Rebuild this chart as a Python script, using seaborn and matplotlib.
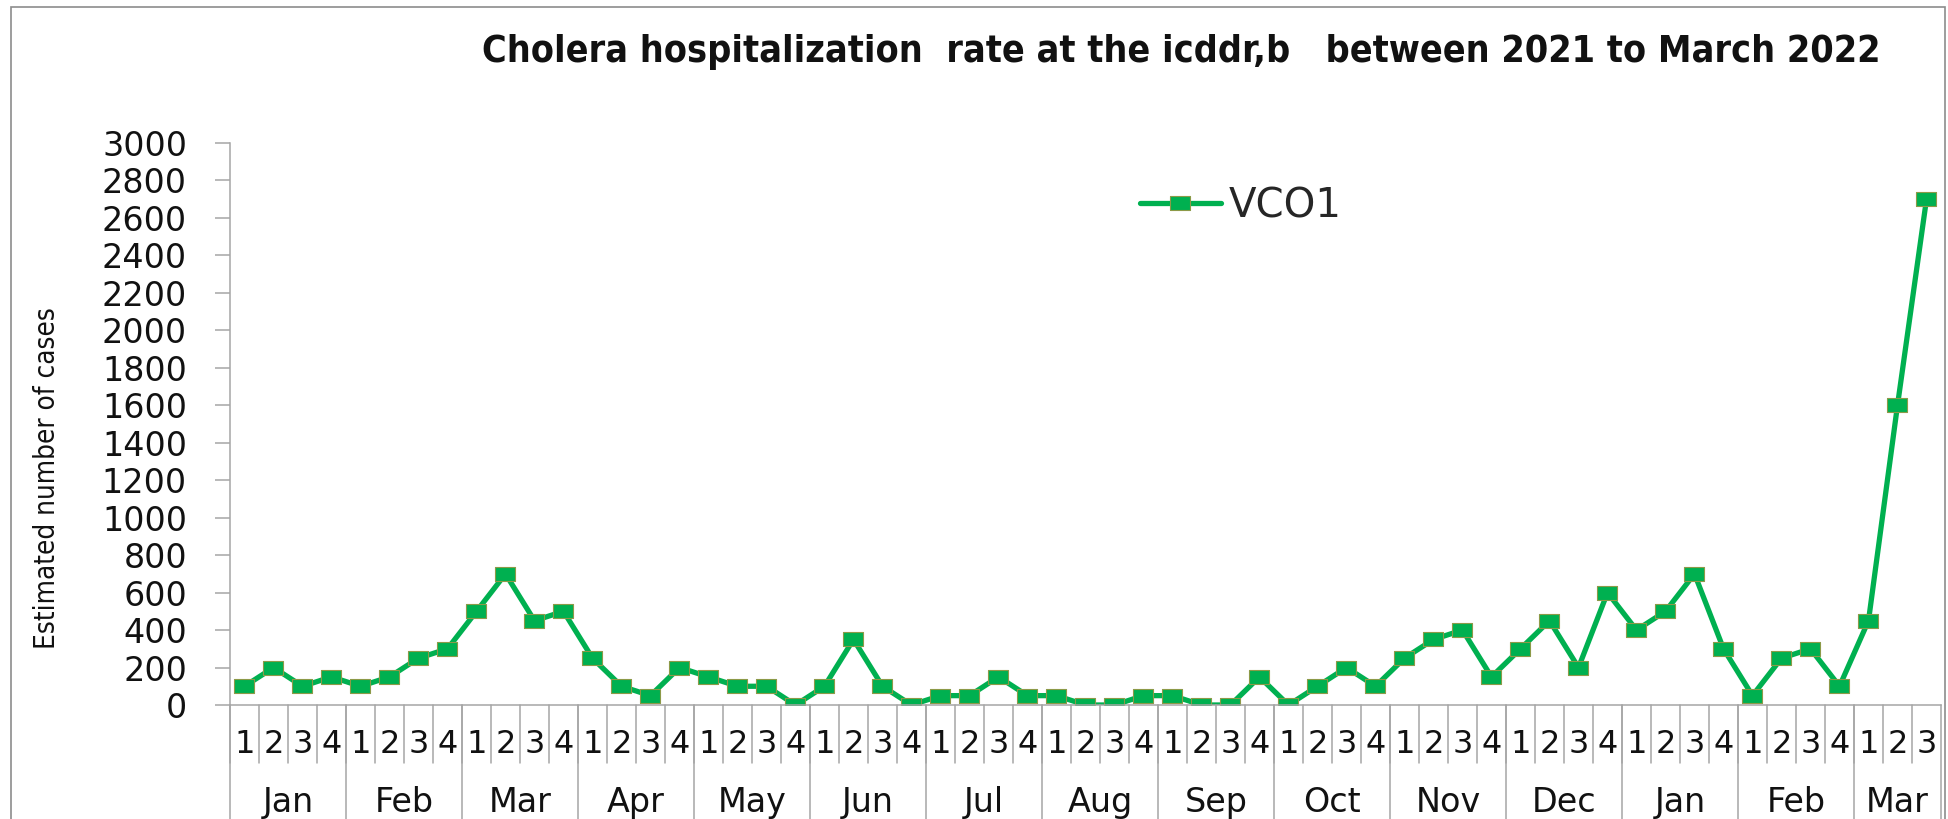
import numpy as np
import pandas as pd
import matplotlib
matplotlib.use('Agg')
import matplotlib.pyplot as plt
from matplotlib.patches import Rectangle
import seaborn as sns

# weekly cholera cases, Jan 2021 - Mar 2022
months = ['Jan', 'Feb', 'Mar', 'Apr', 'May', 'Jun', 'Jul', 'Aug',
          'Sep', 'Oct', 'Nov', 'Dec', 'Jan', 'Feb', 'Mar']
weeks_per_month = [4] * 14 + [3]
cases = [100, 200, 100, 150,
         100, 150, 250, 300,
         500, 700, 450, 500,
         250, 100, 50, 200,
         150, 100, 100, 0,
         100, 350, 100, 0,
         50, 50, 150, 50,
         50, 0, 0, 50,
         50, 0, 0, 150,
         0, 100, 200, 100,
         250, 350, 400, 150,
         300, 450, 200, 600,
         400, 500, 700, 300,
         50, 250, 300, 100,
         450, 1600, 2700]
week_labels = [str(w) for n in weeks_per_month for w in range(1, n + 1)]
y_ticks = list(range(0, 3001, 200))

GREEN = '#00B050'
GRAY = '#A6A6A6'

sns.set_style('white')
plt.rcParams['font.family'] = ['DejaVu Sans']

df = pd.DataFrame({'week': np.arange(len(cases)), 'cases': cases})

W, H = 1949, 819
fig = plt.figure(figsize=(W / 100, H / 100), dpi=100)
ax = fig.add_axes([230 / W, 1 - 705 / H, (1941 - 230) / W, (705 - 143) / H])

# slightly flattened square marker, like the original
rect = [(-1, -0.7), (1, -0.7), (1, 0.7), (-1, 0.7), (-1, -0.7)]
sns.lineplot(data=df, x='week', y='cases', ax=ax, color=GREEN, lw=3.8,
             marker=rect, markersize=14.5, markerfacecolor=GREEN,
             markeredgecolor='#8C9A48', markeredgewidth=0.8, label='VCO1')

ax.set_xlim(-0.5, len(cases) - 0.5)
ax.set_ylim(0, 3000)
ax.set_yticks(y_ticks)
ax.set_yticklabels([str(t) for t in y_ticks], fontsize=24, color='#111111')
ax.set_xticks([])
ax.set_xlabel('')
ax.set_ylabel('')
ax.tick_params(axis='y', length=11, width=1.1, color=GRAY, pad=20, left=True)
for s in ['top', 'right']:
    ax.spines[s].set_visible(False)
for s in ['left', 'bottom']:
    ax.spines[s].set_color(GRAY)
    ax.spines[s].set_linewidth(1.1)

# category axis: week numbers and month groups
trans = ax.get_xaxis_transform()
for i, lab in enumerate(week_labels):
    ax.text(i, -0.0694, lab, transform=trans, ha='center', va='center',
            fontsize=23, color='#111111')
    ax.plot([i - 0.5, i - 0.5], [0, -0.103], transform=trans, clip_on=False,
            color=GRAY, lw=1.1)

bounds = np.concatenate([[0], np.cumsum(weeks_per_month)]) - 0.5
for b in bounds:
    ax.plot([b, b], [0, -0.25], transform=trans, clip_on=False,
            color=GRAY, lw=1.1)
for m, a, b in zip(months, bounds[:-1], bounds[1:]):
    ax.text((a + b) / 2, -0.174, m, transform=trans, ha='center', va='center',
            fontsize=24, color='#111111')

leg = ax.legend(loc='center left', bbox_to_anchor=(1140 / W, 1 - 206 / H),
                bbox_transform=fig.transFigure, frameon=False, fontsize=29,
                handlelength=2.0, handletextpad=0.2, borderpad=0,
                borderaxespad=0, numpoints=1)

fig.text(0.606, 1 - 52 / H,
         'Cholera hospitalization  rate at the icddr,b   between 2021 to March 2022',
         ha='center', va='center', fontsize=27, fontweight='bold',
         fontstretch='condensed', color='#111111')
fig.text(47 / W, 1 - 478 / H, 'Estimated number of cases', rotation=90,
         ha='center', va='center', fontsize=20, fontstretch='condensed',
         color='#111111')

# outer chart border (bottom edge is cut off in the original)
fig.patches.append(Rectangle((11 / W, -0.05), (1945 - 11) / W, 1.05 - 7 / H,
                             transform=fig.transFigure, fill=False,
                             edgecolor='#8C8C8C', lw=1.2))

fig.savefig('out.png', dpi=100)
plt.close()
